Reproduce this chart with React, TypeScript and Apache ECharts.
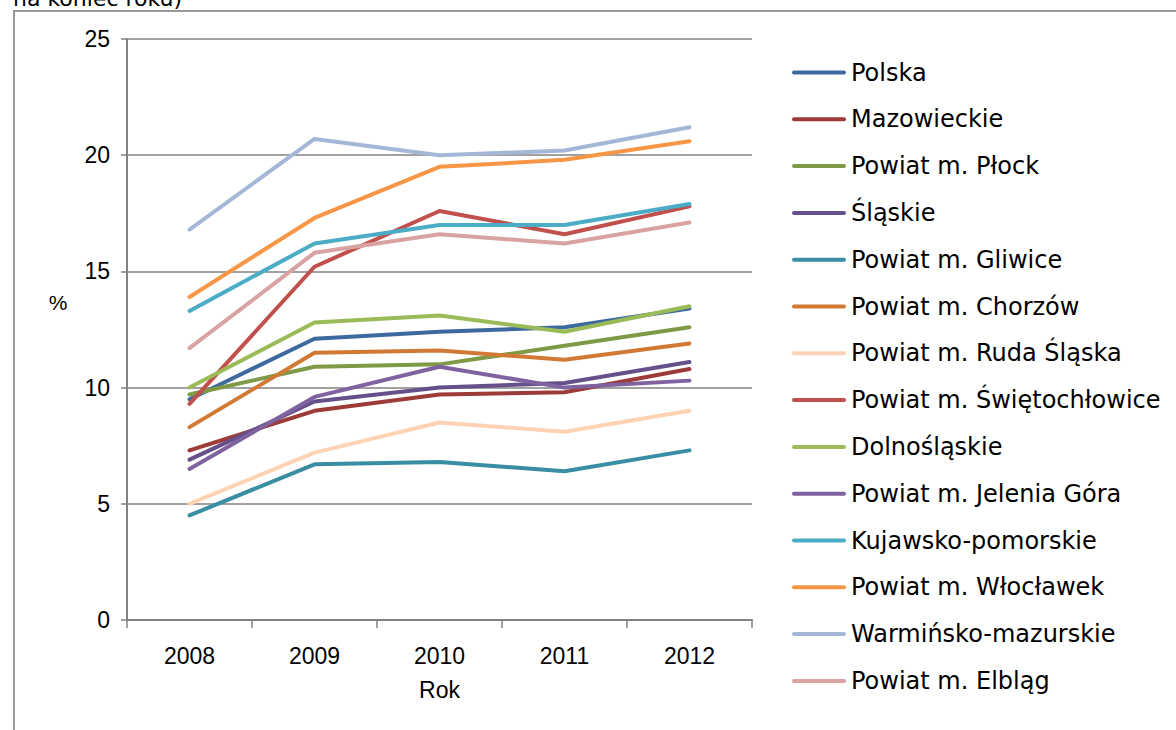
import React, { useEffect, useRef } from "react";
import * as echarts from "echarts";

const years = ["2008", "2009", "2010", "2011", "2012"];

const seriesNames = [
  "Polska",
  "Mazowieckie",
  "Powiat m. Płock",
  "Śląskie",
  "Powiat m. Gliwice",
  "Powiat m. Chorzów",
  "Powiat m. Ruda Śląska",
  "Powiat m. Świętochłowice",
  "Dolnośląskie",
  "Powiat m. Jelenia Góra",
  "Kujawsko-pomorskie",
  "Powiat m. Włocławek",
  "Warmińsko-mazurskie",
  "Powiat m. Elbląg",
];

const polska = [9.5, 12.1, 12.4, 12.6, 13.4];
const mazowieckie = [7.3, 9.0, 9.7, 9.8, 10.8];
const plock = [9.7, 10.9, 11.0, 11.8, 12.6];
const slaskie = [6.9, 9.4, 10.0, 10.2, 11.1];
const gliwice = [4.5, 6.7, 6.8, 6.4, 7.3];
const chorzow = [8.3, 11.5, 11.6, 11.2, 11.9];
const rudaSlaska = [5.0, 7.2, 8.5, 8.1, 9.0];
const swietochlowice = [9.3, 15.2, 17.6, 16.6, 17.8];
const dolnoslaskie = [10.0, 12.8, 13.1, 12.4, 13.5];
const jeleniaGora = [6.5, 9.6, 10.9, 10.0, 10.3];
const kujawsko = [13.3, 16.2, 17.0, 17.0, 17.9];
const wloclawek = [13.9, 17.3, 19.5, 19.8, 20.6];
const warminsko = [16.8, 20.7, 20.0, 20.2, 21.2];
const elblag = [11.7, 15.8, 16.6, 16.2, 17.1];

const seriesValues = [
  polska,
  mazowieckie,
  plock,
  slaskie,
  gliwice,
  chorzow,
  rudaSlaska,
  swietochlowice,
  dolnoslaskie,
  jeleniaGora,
  kujawsko,
  wloclawek,
  warminsko,
  elblag,
];

const colors = [
  "#3D6A9E",
  "#9C3B38",
  "#7E9A47",
  "#66508A",
  "#398EA4",
  "#D27A35",
  "#FDD3B4",
  "#C14F4C",
  "#9BBB59",
  "#7F63A1",
  "#4BACC6",
  "#F79646",
  "#A5B7D7",
  "#D9A3A3",
];

const yTicks = [0, 5, 10, 15, 20, 25];

export default function App() {
  const ref = useRef<HTMLDivElement>(null);

  useEffect(() => {
    if (!ref.current) return;
    const chart = echarts.init(ref.current, undefined, { renderer: "svg" });
    const axisColor = "#828282";
    const option: any = {
      animation: false,
      backgroundColor: "#ffffff",
      color: colors,
      grid: { left: 127, right: 424, top: 39, bottom: 110, containLabel: false },
      xAxis: {
        type: "category",
        data: years,
        boundaryGap: true,
        name: "Rok",
        nameLocation: "middle",
        nameGap: 58,
        nameTextStyle: { fontFamily: "Liberation Sans", fontSize: 23, color: "#000" },
        axisLine: { show: true, lineStyle: { color: axisColor, width: 2 } },
        axisTick: { show: true, alignWithLabel: false, length: 8, lineStyle: { color: axisColor, width: 1.5 } },
        axisLabel: { fontFamily: "Liberation Sans", fontSize: 23, color: "#000", margin: 24 },
        splitLine: { show: false },
      },
      yAxis: {
        type: "value",
        min: yTicks[0],
        max: yTicks[yTicks.length - 1],
        interval: 5,
        axisLine: { show: true, lineStyle: { color: axisColor, width: 2 } },
        axisTick: { show: true, length: 6, lineStyle: { color: axisColor, width: 1.5 } },
        axisLabel: { fontFamily: "Liberation Sans", fontSize: 23, color: "#000", margin: 17 },
        splitLine: { show: true, lineStyle: { color: axisColor, width: 1.6 } },
      },
      legend: {
        orient: "vertical",
        left: 792,
        top: 59.5,
        padding: 0,
        itemWidth: 54,
        itemHeight: 14,
        itemGap: 20.8,
        icon: "path://M2,5 L52,5 A2,2 0 0 1 52,9 L2,9 A2,2 0 0 1 2,5 Z",
        textStyle: { fontFamily: "DejaVu Sans", fontSize: 24, color: "#000", lineHeight: 26 },
        data: seriesNames,
      },
      graphic: [
        {
          type: "rect",
          shape: { x: 14, y: 11, width: 1300, height: 900 },
          style: { fill: "none", stroke: "#9a9a9a", lineWidth: 2 },
          silent: true,
        },
        {
          type: "text",
          x: 13,
          y: 9,
          style: {
            text: "na koniec roku)",
            fontFamily: "DejaVu Sans",
            fontSize: 22,
            fill: "#000",
            verticalAlign: "bottom",
          },
          silent: true,
        },
        {
          type: "text",
          x: 58,
          y: 302,
          style: {
            text: "%",
            fontFamily: "Liberation Sans",
            fontSize: 21,
            fill: "#000",
            align: "center",
            verticalAlign: "middle",
          },
          silent: true,
        },
      ],
      series: seriesNames.map((name, i) => ({
        name,
        type: "line",
        data: seriesValues[i],
        symbol: "none",
        showSymbol: false,
        lineStyle: { width: 4, color: colors[i], cap: "round", join: "round" },
        itemStyle: { color: colors[i] },
        emphasis: { disabled: true },
      })),
    };
    chart.setOption(option);
    return () => chart.dispose();
  }, []);

  return (
    <div
      ref={ref}
      style={{ position: "fixed", left: 0, top: 0, width: 1176, height: 730 }}
    />
  );
}
